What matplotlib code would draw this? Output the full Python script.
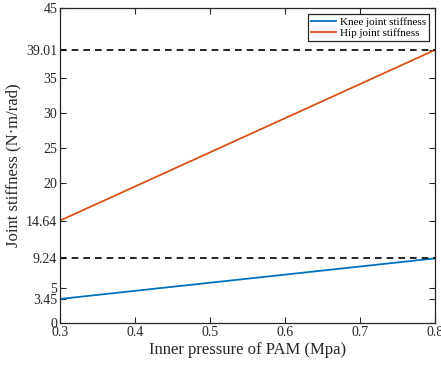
import matplotlib
matplotlib.use("Agg")
import matplotlib.pyplot as plt

pressure = [0.3, 0.8]
knee = [3.45, 9.24]
hip = [14.64, 39.01]
ref_levels = [39.01, 9.24]
yticks = [0, 3.45, 5, 9.24, 14.64, 20, 25, 30, 35, 39.01, 45]
ytick_labels = ["0", "3.45", "5", "9.24", "14.64", "20", "25", "30", "35", "39.01", "45"]
xticks = [0.3, 0.4, 0.5, 0.6, 0.7, 0.8]

plt.rcParams['font.family'] = ['Liberation Serif', 'DejaVu Serif']

fig = plt.figure(figsize=(4.41, 3.68), dpi=100)
ax = fig.add_axes([0.136, 0.122, 0.850, 0.856])

ax.plot(pressure, knee, color='#0072BD', lw=1.3, label='Knee joint stiffness')
ax.plot(pressure, hip, color='#D95319', lw=1.3, label='Hip joint stiffness')
for lv in ref_levels:
    ax.plot(pressure, [lv, lv], color='black', lw=1.2, ls=(0, (4, 3)))

ax.set_xlim(0.3, 0.8)
ax.set_ylim(0, 45)
ax.set_xticks(xticks)
ax.set_xticklabels([f"{v:.1f}" for v in xticks])
ax.set_yticks(yticks)
ax.set_yticklabels(ytick_labels)
ax.tick_params(direction='in', top=True, right=True, labelsize=10, length=4, width=0.8, pad=2,
               colors='#262626', labelcolor='#262626')
for s in ax.spines.values():
    s.set_linewidth(0.9)
    s.set_color('#262626')

ax.set_xlabel('Inner pressure of PAM (Mpa)', fontsize=12, labelpad=2, color='#262626')
ax.set_ylabel('Joint stiffness (N·m/rad)', fontsize=12, labelpad=3, color='#262626')

leg = ax.legend(loc='upper right', fontsize=8, frameon=True, fancybox=False,
                edgecolor='#262626', framealpha=1, borderpad=0.3, handlelength=2.3,
                handletextpad=0.3, labelspacing=0.1, borderaxespad=0.5)
leg.get_frame().set_linewidth(0.9)

fig.savefig('out.png', dpi=100)
